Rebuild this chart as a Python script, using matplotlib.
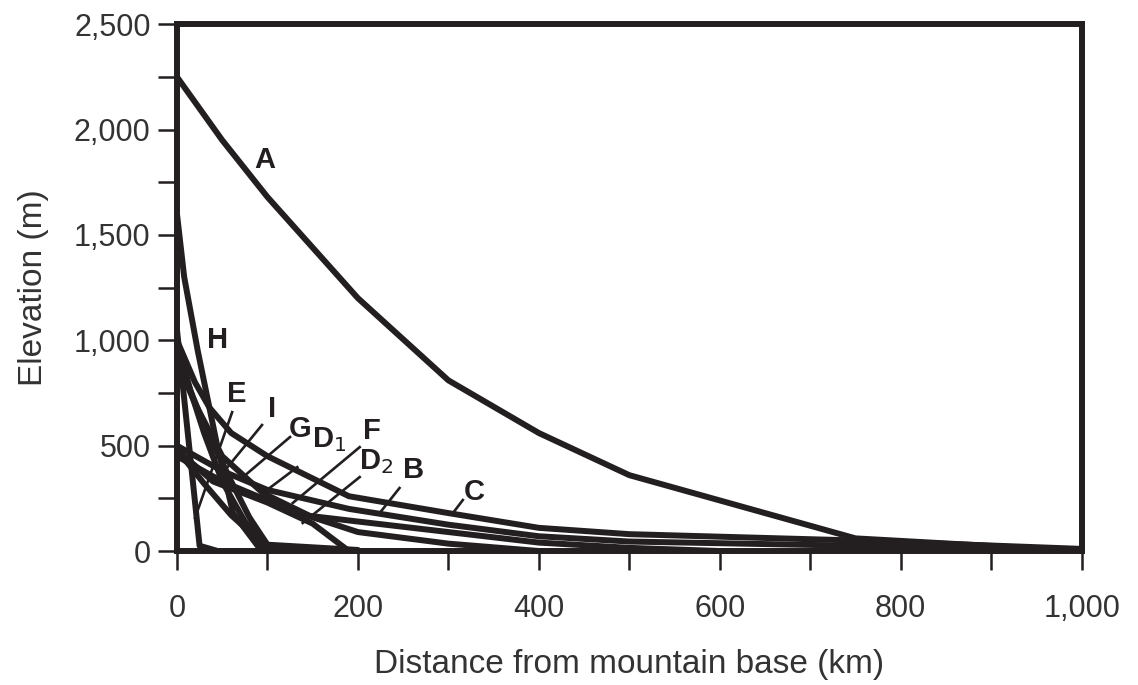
import numpy as np
import matplotlib.pyplot as plt
from matplotlib.ticker import MultipleLocator, FuncFormatter

plt.rcParams['font.family'] = ['Liberation Sans', 'DejaVu Sans']

# profil tiap sungai: jarak dari kaki gunung (km) dan elevasi (m)
a_x = [0, 50, 100, 200, 300, 400, 500, 750, 1000]
a_y = [2250, 1950, 1680, 1200, 810, 560, 360, 60, 0]

c_x = [0, 20, 36, 60, 100, 190, 300, 400, 500, 750, 1000]
c_y = [1000, 800, 680, 560, 450, 260, 180, 110, 80, 50, 10]

b_x = [0, 50, 100, 190, 300, 400, 500, 750, 1000]
b_y = [500, 380, 290, 200, 125, 70, 45, 25, 0]

d2_x = [0, 50, 100, 140, 230, 300, 400, 500, 600]
d2_y = [450, 330, 240, 170, 125, 90, 40, 15, 0]

f_x = [0, 40, 100, 150, 190]
f_y = [480, 330, 230, 130, 0]

d1_x = [0, 20, 50, 95, 150, 200, 300, 400]
d1_y = [900, 700, 450, 275, 160, 90, 35, 0]

g_x = [0, 30, 60, 80, 100, 200]
g_y = [920, 600, 330, 160, 30, 5]

e_x = [0, 15, 30, 50, 75, 100, 200]
e_y = [1000, 760, 560, 330, 140, 25, 0]

i_x = [0, 25, 45]
i_y = [1050, 25, 0]

h_x = [0, 8, 23, 44, 62, 90, 100]
h_y = [1600, 1300, 950, 510, 180, 20, 0]

k_x = [0, 30, 60, 100]
k_y = [480, 320, 170, 15]

profiles = [(a_x, a_y), (c_x, c_y), (b_x, b_y), (d2_x, d2_y), (f_x, f_y),
            (d1_x, d1_y), (g_x, g_y), (e_x, e_y), (i_x, i_y), (h_x, h_y), (k_x, k_y)]

# label, posisi teks, ujung garis penunjuk (None = tanpa garis)
labels = ['A', 'H', 'E', 'I', 'G', 'D$_1$', 'F', 'D$_2$', 'B', 'C']
label_pos = [(97, 1855), (45, 1000), (66, 745), (105, 672), (136, 577),
             (168, 527), (215, 568), (220, 422), (262, 386), (329, 282)]
leader_start = [None, None, (61, 659), (94, 598), (125, 541),
                (133, 398), (202, 493), (202, 351), (246, 299), (316, 242)]
leader_end = [None, None, (20, 157), (47, 351), (73, 351),
              (95, 275), (128, 228), (139, 133), (224, 180), (305, 180)]

fig = plt.figure(figsize=(11.38, 6.85), dpi=100)
ax = fig.add_axes([0.1555, 0.1956, 0.795, 0.769])

for xs, ys in profiles:
    ax.plot(xs, ys, color='#231f20', lw=4.3, solid_joinstyle='round', solid_capstyle='round')

for lab, pos, s, e in zip(labels, label_pos, leader_start, leader_end):
    ax.text(pos[0], pos[1], lab, fontsize=21, fontweight='bold', ha='center', va='center',
            color='#231f20')
    if s is not None:
        ax.plot([s[0], e[0]], [s[1], e[1]], color='#231f20', lw=1.9)

ax.set_xlim(0, 1000)
ax.set_ylim(0, 2500)
ax.xaxis.set_major_locator(MultipleLocator(200))
ax.xaxis.set_minor_locator(MultipleLocator(100))
ax.yaxis.set_major_locator(MultipleLocator(500))
ax.yaxis.set_minor_locator(MultipleLocator(250))
fmt = FuncFormatter(lambda v, p: f'{int(v):,}')
ax.xaxis.set_major_formatter(fmt)
ax.yaxis.set_major_formatter(fmt)
ax.tick_params(which='both', direction='out', length=14, width=1.8, color='#231f20')
ax.tick_params(axis='x', which='major', pad=17, labelsize=22, labelcolor='#333333')
ax.tick_params(axis='y', which='major', pad=5, labelsize=22, labelcolor='#333333')
for sp in ax.spines.values():
    sp.set_linewidth(4.3)
    sp.set_color('#231f20')

ax.set_xlabel('Distance from mountain base (km)', fontsize=24, color='#333333', labelpad=18)
ax.set_ylabel('Elevation (m)', fontsize=24, color='#333333', labelpad=18)

plt.savefig('out.png', dpi=100)
